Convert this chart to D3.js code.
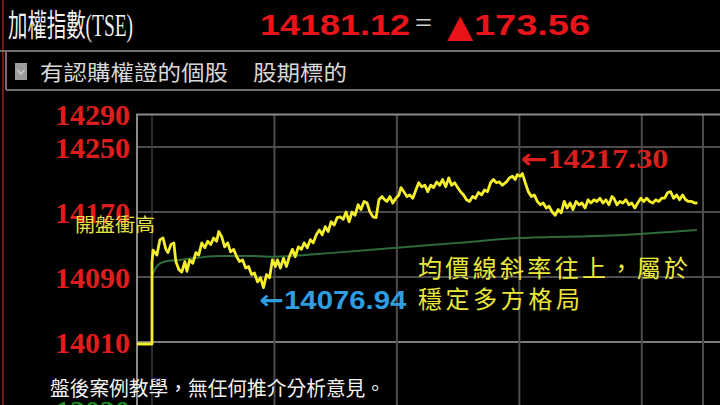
<!DOCTYPE html>
<html><head><meta charset="utf-8">
<script src="https://cdn.jsdelivr.net/npm/d3@7"></script>
<style>html,body{margin:0;padding:0;background:#000;overflow:hidden}</style>
</head><body>
<svg id="c" width="720" height="405"></svg>
<script>
// ---- data ----
const yTicks = [14290, 14250, 14170, 14090, 14010];
const gridValues = [14250, 14170, 14090, 14010];
const hourTicks = [0, 60, 120, 180, 240, 270]; // minutes after 9:00
const prevClose = 14007.56;
const lastPrice = 14181.12;
const change = 173.56;
const dayHigh = {t: 181.5, v: 14217.30};
const dayLow = {t: 54.6, v: 14076.94};

const indexTimes = [-7.3,0,0,0.5,2.4,3.9,5.4,6.8,7.8,9.3,10.7,11.7,13.2,14.6,16.1,17.1,18.5,20.0,21.5,22.9,24.4,25.9,27.3,28.8,30.2,31.7,32.7,34.1,35.6,37.1,38.5,40.0,41.5,42.9,44.4,45.9,47.3,48.8,50.2,51.7,53.2,54.6,56.1,57.6,59.0,60.5,61.5,62.9,64.4,65.9,67.3,68.8,70.2,71.7,73.2,74.6,76.1,77.6,79.0,80.5,82.0,83.4,84.9,86.3,87.8,89.3,90.7,92.2,93.7,95.1,96.6,98.0,99.5,101.0,102.4,103.9,105.4,106.8,108.3,109.8,111.2,112.7,114.1,115.1,116.6,118.0,119.5,121.0,122.0,123.4,124.9,126.3,127.8,129.3,130.7,132.2,133.7,135.1,136.6,138.0,139.5,141.0,142.4,143.9,145.4,146.8,148.3,149.8,151.2,152.7,154.1,155.6,157.1,158.5,160.0,161.5,162.9,164.4,165.9,167.3,168.8,170.2,171.7,173.7,175.1,176.6,178.0,179.0,180.5,181.5,182.9,184.4,185.9,187.3,188.8,190.2,191.7,193.2,194.6,196.1,197.6,199.0,200.5,202.0,203.4,204.9,206.3,207.8,209.3,210.7,212.2,213.7,215.1,216.6,218.0,219.5,221.0,222.4,223.9,225.4,226.3,227.8,229.3,230.7,232.2,233.7,235.1,236.6,238.0,239.5,241.0,242.4,243.9,245.4,246.8,248.3,249.8,251.2,252.7,254.1,255.6,257.1,258.5,260.0,261.5,262.9,264.4,265.9,267.3];
const indexValues = [14007.56,14007.56,14108,14123,14117,14136,14138,14124,14120,14130,14132,14109,14099,14096,14109,14097,14111,14107,14120,14117,14132,14126,14134,14130,14138,14134,14146,14140,14127,14132,14121,14124,14115,14109,14111,14101,14103,14093,14095,14084,14089,14076.94,14093,14089,14111,14103,14111,14101,14113,14103,14115,14124,14115,14127,14124,14132,14126,14136,14132,14142,14148,14142,14152,14146,14158,14154,14163,14164,14161,14170,14158,14170,14166,14179,14173,14183,14181,14170,14164,14163,14185,14189,14185,14183,14189,14181,14187,14191,14200,14195,14189,14191,14187,14197,14206,14201,14203,14195,14203,14200,14207,14203,14210,14201,14212,14203,14206,14200,14195,14191,14185,14183,14189,14187,14194,14191,14197,14195,14206,14210,14206,14207,14203,14207,14212,14214,14210,14216,14214,14217.30,14206,14195,14189,14191,14183,14179,14181,14175,14177,14170,14166,14173,14169,14183,14175,14181,14173,14183,14179,14181,14175,14185,14181,14185,14183,14187,14181,14185,14179,14189,14187,14179,14183,14181,14185,14179,14181,14175,14181,14187,14183,14187,14183,14181,14185,14183,14187,14187,14194,14195,14187,14191,14185,14191,14185,14183,14183,14181,14181.12];

const avgTimes = [0, 2.4, 6.3, 13.7, 33, 47, 59, 90, 120, 150, 180, 225, 267];
const avgValues = [14092, 14103, 14109, 14111, 14116, 14116, 14115, 14120, 14126, 14132, 14138, 14141, 14148];

// ---- scales ----
const svg = d3.select('#c');
const x = d3.scaleLinear().domain([0, 270]).range([152, 703]);
const y = d3.scaleLinear().domain([14010, 14290]).range([342, 114.5]);
const CJK = '"Noto Sans CJK TC","Noto Sans CJK SC",sans-serif';

svg.append('rect').attr('width',720).attr('height',405).attr('fill','#000');

// left red rule
svg.append('line').attr('x1',3).attr('x2',3).attr('y1',0).attr('y2',405)
  .attr('stroke','#7a1212').attr('stroke-width',2);

// ---- header ----
svg.append('text').attr('x',8).attr('y',36)
  .attr('font-family','"Liberation Serif",'+CJK).attr('font-size',31)
  .attr('fill','#f0f0f0').attr('textLength',125).attr('lengthAdjust','spacingAndGlyphs')
  .text('加權指數(TSE)');
svg.append('text').attr('x',260).attr('y',35)
  .attr('font-family','"Liberation Sans",Arial,sans-serif').attr('font-weight','bold').attr('font-size',30)
  .attr('fill','#e8141a').attr('textLength',150).attr('lengthAdjust','spacingAndGlyphs')
  .text(lastPrice.toFixed(2));
svg.append('text').attr('x',415).attr('y',30)
  .attr('font-family','"Liberation Sans",sans-serif').attr('font-size',22)
  .attr('fill','#cfcfcf').attr('textLength',17).attr('lengthAdjust','spacingAndGlyphs')
  .text('=');
svg.append('text').attr('x',447).attr('y',37)
  .attr('font-family','"DejaVu Sans",sans-serif').attr('font-size',32)
  .attr('fill','#e8141a').attr('textLength',26).attr('lengthAdjust','spacingAndGlyphs')
  .text('▲');
svg.append('text').attr('x',474).attr('y',35)
  .attr('font-family','"Liberation Sans",Arial,sans-serif').attr('font-weight','bold').attr('font-size',30)
  .attr('fill','#e8141a').attr('textLength',116).attr('lengthAdjust','spacingAndGlyphs')
  .text(change.toFixed(2));

// option row box
svg.append('path').attr('d','M6,90 L6,51 L720,51 M6,90 L720,90')
  .attr('fill','none').attr('stroke','#6e6e6e').attr('stroke-width',2);
svg.append('line').attr('x1',0).attr('x2',6).attr('y1',51).attr('y2',51)
  .attr('stroke','#6e6e6e').attr('stroke-width',2);
svg.append('rect').attr('x',15).attr('y',63).attr('width',12).attr('height',17).attr('fill','#9c9c9c');
svg.append('path').attr('d','M17.5,70 L21,74 L24.5,70').attr('fill','none')
  .attr('stroke','#d0d0d0').attr('stroke-width',1.4);
svg.append('text').attr('x',40).attr('y',80)
  .attr('font-family',CJK).attr('font-size',21).attr('fill','#d8d8d8')
  .attr('textLength',188).attr('lengthAdjust','spacingAndGlyphs').text('有認購權證的個股');
svg.append('text').attr('x',253).attr('y',80)
  .attr('font-family',CJK).attr('font-size',21).attr('fill','#d8d8d8')
  .attr('textLength',94).attr('lengthAdjust','spacingAndGlyphs').text('股期標的');

// ---- grid ----
const g = svg.append('g');
g.selectAll('line.h').data(gridValues).join('line').attr('class','h')
  .attr('x1',137).attr('x2',720)
  .attr('y1',d=>y(d)).attr('y2',d=>y(d))
  .attr('stroke',d=>d===14010?'#7c7c7c':'#4c4c4c').attr('stroke-width',2);
g.selectAll('line.v').data(hourTicks).join('line').attr('class','v')
  .attr('x1',d=>x(d)).attr('x2',d=>x(d))
  .attr('y1',y(14290)).attr('y2',405)
  .attr('stroke',d=>d===0?'#3a3a3a':'#4c4c4c').attr('stroke-width',d=>d===0?1.5:2);
// frame
g.append('path').attr('d',`M137,405 L137,${y(14290)} L720,${y(14290)}`)
  .attr('fill','none').attr('stroke','#8a8a8a').attr('stroke-width',2);

// y labels
svg.selectAll('text.yl').data(yTicks).join('text').attr('class','yl')
  .attr('x',130).attr('y',d=>y(d)).attr('dy','0.35em').attr('text-anchor','end')
  .attr('font-family','"Liberation Serif",serif').attr('font-weight','bold').attr('font-size',30)
  .attr('fill','#e01d1d').text(d=>d);

// partially hidden volume label
svg.append('text').attr('x',130).attr('y',421).attr('text-anchor','end')
  .attr('font-family','"Liberation Serif",serif').attr('font-weight','bold').attr('font-size',30)
  .attr('fill','#1f8a1f').text('12030');

// ---- lines ----
const avgLine = d3.line().x((d,i)=>x(avgTimes[i])).y(d=>y(d)).curve(d3.curveMonotoneX);
svg.append('path').datum(avgValues).attr('d',avgLine)
  .attr('fill','none').attr('stroke','#2f6a3a').attr('stroke-width',2);

const idxLine = d3.line().x((d,i)=>x(indexTimes[i])).y(d=>y(d));
svg.append('path').datum(indexValues).attr('d',idxLine)
  .attr('fill','none').attr('stroke','#f4ef2a').attr('stroke-width',2.8)
  .attr('stroke-linejoin','round');

// ---- annotations ----
const hi = svg.append('text').attr('x',x(dayHigh.t)-2).attr('y',y(dayHigh.v)-15).attr('dy','0.35em')
  .attr('font-family','"Liberation Serif",serif').attr('font-weight','bold').attr('font-size',27)
  .attr('fill','#d9201e').attr('textLength',148).attr('lengthAdjust','spacingAndGlyphs');
hi.append('tspan').attr('font-family','"DejaVu Sans",sans-serif').attr('font-weight','bold').text('←');
hi.append('tspan').text(dayHigh.v.toFixed(2));

const lo = svg.append('text').attr('x',x(dayLow.t)-4).attr('y',y(dayLow.v)+12).attr('dy','0.35em')
  .attr('font-family','"Liberation Sans",sans-serif').attr('font-weight','bold').attr('font-size',26)
  .attr('fill','#2f9de0').attr('textLength',147).attr('lengthAdjust','spacingAndGlyphs');
lo.append('tspan').attr('font-family','"DejaVu Sans",sans-serif').attr('font-weight','bold').text('←');
lo.append('tspan').text(dayLow.v.toFixed(2));

svg.append('text').attr('x',75).attr('y',225).attr('dy','0.35em')
  .attr('font-family',CJK).attr('font-size',19).attr('fill','#e6e040')
  .attr('textLength',80).attr('lengthAdjust','spacingAndGlyphs').text('開盤衝高');
svg.append('text').attr('x',418).attr('y',269).attr('dy','0.35em')
  .attr('font-family',CJK).attr('font-size',24).attr('fill','#ece83a')
  .attr('textLength',270).attr('lengthAdjust','spacing').text('均價線斜率往上，屬於');
svg.append('text').attr('x',418).attr('y',300).attr('dy','0.35em')
  .attr('font-family',CJK).attr('font-size',24).attr('fill','#ece83a')
  .attr('textLength',162).attr('lengthAdjust','spacing').text('穩定多方格局');

svg.append('text').attr('x',50).attr('y',389).attr('dy','0.35em')
  .attr('font-family',CJK).attr('font-size',20).attr('fill','#f2f2f2')
  .attr('textLength',335).attr('lengthAdjust','spacingAndGlyphs').text('盤後案例教學，無任何推介分析意見。');
</script>
</body></html>
